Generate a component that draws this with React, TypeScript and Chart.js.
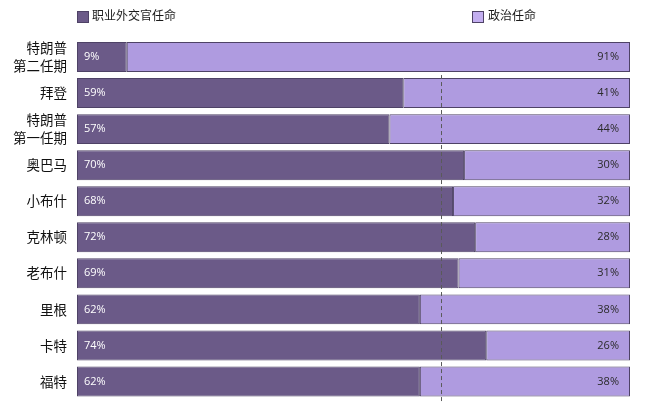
import React, { useEffect, useRef } from "react";
import { Chart, registerables } from "chart.js";

Chart.register(...registerables);

const categories: (string | string[])[] = [
  ["特朗普", "第二任期"],
  "拜登",
  ["特朗普", "第一任期"],
  "奥巴马",
  "小布什",
  "克林顿",
  "老布什",
  "里根",
  "卡特",
  "福特",
];
const careerValues = [9, 59, 56.5, 70, 68, 72, 69, 62, 74, 62];
const politicalValues = [91, 41, 43.5, 30, 32, 28, 31, 38, 26, 38];
const seriesNames = ["职业外交官任命", "政治任命"];
const averageCareer = 65.9; // dashed reference line (avg. excluding first row)

const CAREER_COLOR = "#6b5a88";
const POLITICAL_COLOR = "#af9be0";
const BORDER_COLOR = "#4e4266";
const CJK_FONT = '"Noto Sans CJK SC", "Noto Sans", sans-serif';
const NUM_FONT = '"Open Sans", "Noto Sans", sans-serif';

export default function App() {
  const canvasRef = useRef<HTMLCanvasElement | null>(null);

  useEffect(() => {
    document.body.style.margin = "0";
    const canvas = canvasRef.current;
    if (!canvas) return;

    const valueLabels = {
      id: "valueLabels",
      afterDatasetsDraw(chart: any) {
        const ctx = chart.ctx;
        ctx.save();
        ctx.font = `11px ${NUM_FONT}`;
        ctx.textBaseline = "middle";
        chart.data.datasets.forEach((ds: any, di: number) => {
          const meta = chart.getDatasetMeta(di);
          meta.data.forEach((bar: any, i: number) => {
            const v = Math.round(ds.data[i]);
            const text = `${v}%`;
            if (di === 0) {
              ctx.fillStyle = "#ffffff";
              ctx.textAlign = "left";
              ctx.fillText(text, bar.base + 7, bar.y);
            } else {
              ctx.fillStyle = "#2b2b2b";
              ctx.textAlign = "right";
              ctx.fillText(text, bar.x - 11, bar.y);
            }
          });
        });
        ctx.restore();
      },
    };

    const avgLine = {
      id: "avgLine",
      afterDatasetsDraw(chart: any) {
        const ctx = chart.ctx;
        const xs = chart.scales.x;
        const ys = chart.scales.y;
        const x = Math.round(xs.getPixelForValue(averageCareer)) + 0.5;
        const y0 = (ys.getPixelForValue(0) + ys.getPixelForValue(1)) / 2;
        ctx.save();
        ctx.strokeStyle = "#5a5a5a";
        ctx.lineWidth = 1;
        ctx.setLineDash([4, 3]);
        ctx.beginPath();
        ctx.moveTo(x, y0);
        ctx.lineTo(x, chart.height);
        ctx.stroke();
        ctx.restore();
      },
    };

    const chart = new Chart(canvas, {
      type: "bar",
      data: {
        labels: categories,
        datasets: [
          {
            label: seriesNames[0],
            data: careerValues,
            backgroundColor: CAREER_COLOR,
            borderColor: BORDER_COLOR,
            borderWidth: 1,
            borderSkipped: false,
            barPercentage: 0.83,
            categoryPercentage: 1,
          },
          {
            label: seriesNames[1],
            data: politicalValues,
            backgroundColor: POLITICAL_COLOR,
            borderColor: BORDER_COLOR,
            borderWidth: 1,
            borderSkipped: false,
            barPercentage: 0.83,
            categoryPercentage: 1,
          },
        ],
      },
      options: {
        indexAxis: "y",
        responsive: false,
        animation: false,
        layout: { padding: { top: 39, bottom: 3.5, right: 15, left: 0 } },
        plugins: {
          legend: { display: false },
          tooltip: { enabled: false },
        },
        scales: {
          x: {
            stacked: true,
            min: 0,
            max: 100,
            display: false,
          },
          y: {
            stacked: true,
            grid: { display: false, drawTicks: false },
            border: { display: false },
            afterFit(scale: any) {
              scale.width = 77;
              scale.paddingTop = 0;
              scale.paddingBottom = 0;
            },
            ticks: {
              autoSkip: false,
              padding: 10,
              color: "#111111",
              font: { family: CJK_FONT, size: 13.5, lineHeight: 1.33 },
            },
          },
        },
      },
      plugins: [valueLabels, avgLine],
    });

    return () => chart.destroy();
  }, []);

  const legendBox = (color: string): React.CSSProperties => ({
    position: "absolute",
    width: 10,
    height: 10,
    background: color,
    border: `1px solid ${BORDER_COLOR}`,
    top: 11,
  });
  const legendText: React.CSSProperties = {
    position: "absolute",
    top: 7,
    fontFamily: CJK_FONT,
    fontSize: 12,
    lineHeight: "16px",
    color: "#1a1a1a",
    whiteSpace: "nowrap",
  };

  return (
    <div style={{ position: "relative", width: 645, height: 403 }}>
      <canvas ref={canvasRef} width={645} height={403} style={{ display: "block" }} />
      <div style={{ ...legendBox(CAREER_COLOR), left: 77 }} />
      <div style={{ ...legendText, left: 92 }}>{seriesNames[0]}</div>
      <div style={{ ...legendBox("#c3aef0"), left: 472 }} />
      <div style={{ ...legendText, left: 488 }}>{seriesNames[1]}</div>
    </div>
  );
}
